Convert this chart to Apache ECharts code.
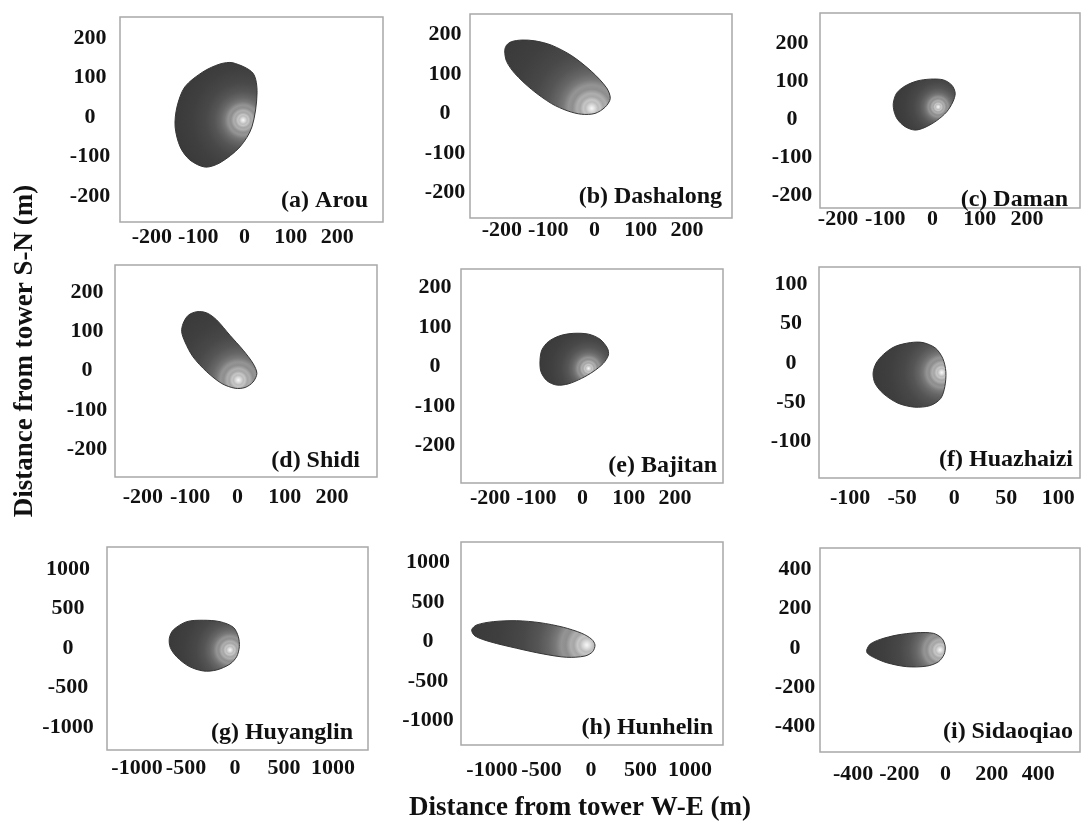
<!DOCTYPE html>
<html>
<head>
<meta charset="utf-8">
<script src="https://cdn.jsdelivr.net/npm/echarts@6/dist/echarts.min.js"></script>
<style>html,body{margin:0;padding:0;background:#fff}#chart{width:1082px;height:826px}</style>
</head>
<body>
<div id="chart"></div>
<script>
// ---- tick labels ----
const ticks200 = [-200, -100, 0, 100, 200];
const ticks100 = [-100, -50, 0, 50, 100];
const ticks1000 = [-1000, -500, 0, 500, 1000];
const ticks400 = [-400, -200, 0, 200, 400];

// ---- site names ----
const siteLabels = ['(a) Arou', '(b) Dashalong', '(c) Daman', '(d) Shidi', '(e) Bajitan',
  '(f) Huazhaizi', '(g) Huyanglin', '(h) Hunhelin', '(i) Sidaoqiao'];

// ---- footprint outer contours (m) and peak locations (m) ----
const arouOutline = [[-25,137],[18,111],[27,61],[16,-25],[-10,-76],[-53,-116],[-85,-127],[-118,-109],[-139,-76],[-150,-25],[-146,25],[-129,76],[-90,114],[-53,134]];
const arouPeak = [-3, -8];
const dashalongOutline = [[-190,173],[-179,182],[-157,186],[-129,184],[-93,173],[-49,146],[-6,106],[26,65],[34,38],[23,16],[1,0],[-28,-2],[-57,6],[-93,25],[-136,61],[-172,101],[-190,132],[-194,159]];
const dashalongPeak = [-6, 13];
const damanOutline = [[-83,41],[-76,68],[-58,87],[-33,100],[-5,105],[23,103],[41,89],[48,68],[43,45],[30,19],[9,-4],[-16,-22],[-37,-29],[-58,-20],[-74,-1],[-81,19]];
const damanPeak = [12, 32];
const shidiOutline = [[-115,120],[-104,141],[-86,150],[-65,147],[-44,129],[-16,90],[12,52],[33,18],[41,-7],[33,-29],[16,-43],[-5,-45],[-33,-33],[-65,-3],[-94,35],[-111,73],[-118,99]];
const shidiPeak = [2, -24];
const bajitanOutline = [[-92,16],[-88,42],[-74,63],[-49,78],[-20,84],[13,82],[38,69],[54,46],[56,29],[45,8],[23,-13],[-2,-30],[-31,-44],[-56,-47],[-77,-36],[-90,-13]];
const bajitanPeak = [13, -5];
const huazhaiziOutline = [[-78,-13],[-75,0],[-68,11],[-57,21],[-42,26],[-30,26],[-18,19],[-11,6],[-8,-11],[-9,-30],[-13,-45],[-23,-54],[-38,-56],[-54,-51],[-68,-39],[-76,-26]];
const huazhaiziPeak = [-12, -12];
const huyanglinOutline = [[-630,228],[-493,333],[-323,351],[-153,333],[-17,262],[34,143],[44,16],[17,-110],[-51,-203],[-187,-278],[-323,-291],[-470,-232],[-595,-112],[-660,5],[-670,123]];
const huyanglinPeak = [-51, -25];
const hunhelinOutline = [[-1205,146],[-1155,209],[-987,251],[-751,263],[-515,238],[-280,180],[-94,104],[7,28],[40,-44],[17,-129],[-61,-184],[-245,-200],[-482,-158],[-751,-86],[-1020,-3],[-1172,70]];
const hunhelinPeak = [-43, -44];
const sidaoqiaoOutline = [[-341,-10],[-326,20],[-283,44],[-211,66],[-125,78],[-53,75],[-16,49],[-2,10],[-6,-31],[-31,-70],[-81,-92],[-168,-95],[-254,-75],[-312,-47],[-338,-27]];
const sidaoqiaoPeak = [-24, -10];

const outlines = [arouOutline, dashalongOutline, damanOutline, shidiOutline, bajitanOutline,
  huazhaiziOutline, huyanglinOutline, hunhelinOutline, sidaoqiaoOutline];
const peaks = [arouPeak, dashalongPeak, damanPeak, shidiPeak, bajitanPeak,
  huazhaiziPeak, huyanglinPeak, hunhelinPeak, sidaoqiaoPeak];
const xTickSets = [ticks200, ticks200, ticks200, ticks200, ticks200, ticks100, ticks1000, ticks1000, ticks400];
const yTickSets = [ticks200, ticks200, ticks200, ticks200, ticks200, ticks100, ticks1000, ticks1000, ticks400];

// ---- layout (pixels) ----
const layout = [
  {l:120,t:17,w:263,h:205, xr:[-269,299], yr:[-266,253], ym:30, xm:15, lr:368, lc:201},
  {l:470,t:14,w:262,h:204, xr:[-269,297], yr:[-265,252], ym:25, xm:12, lr:722, lc:197},
  {l:820,t:13,w:260,h:195, xr:[-238,312], yr:[-234,279], ym:28, xm:11, lr:1068, lc:200},
  {l:115,t:265,w:262,h:212, xr:[-259,295], yr:[-271,269], ym:28, xm:20, lr:360, lc:461},
  {l:461,t:269,w:262,h:214, xr:[-263,304], yr:[-295,247], ym:26, xm:15, lr:717, lc:466},
  {l:819,t:267,w:261,h:211, xr:[-130,121], yr:[-146,122], ym:28, xm:20, lr:1073, lc:460},
  {l:107,t:547,w:261,h:203, xr:[-1306,1357], yr:[-1291,1278], ym:39, xm:18, lr:353, lc:733},
  {l:461,t:542,w:262,h:203, xr:[-1313,1333], yr:[-1310,1259], ym:33, xm:25, lr:713, lc:728},
  {l:820,t:548,w:260,h:204, xr:[-543,581], yr:[-530,510], ym:25, xm:22, lr:1073, lc:732}
];

const FONT = 'Liberation Serif';
const labelStyle = {fontFamily: FONT, fontWeight: 'bold', fontSize: 22, color: '#111',
  formatter: function (v) { return String(v); }};

const shadeStops = [
  {offset: 0, color: '#f8f8f8'},
  {offset: 0.03, color: '#dcdcdc'},
  {offset: 0.06, color: '#bcbcbc'},
  {offset: 0.08, color: '#c6c6c6'},
  {offset: 0.11, color: '#a6a6a6'},
  {offset: 0.14, color: '#aeaeae'},
  {offset: 0.18, color: '#8e8e8e'},
  {offset: 0.22, color: '#949494'},
  {offset: 0.27, color: '#787878'},
  {offset: 0.33, color: '#666666'},
  {offset: 0.42, color: '#555555'},
  {offset: 0.55, color: '#484848'},
  {offset: 0.75, color: '#3f3f3f'},
  {offset: 1, color: '#3a3a3a'}
];

const grids = [], xAxes = [], yAxes = [], series = [], titles = [];
layout.forEach((L, i) => {
  grids.push({left: L.l, top: L.t, width: L.w, height: L.h, show: true,
    borderColor: '#a8a8a8', borderWidth: 1.5, backgroundColor: '#fff', outerBoundsMode: 'none'});
  xAxes.push({type: 'value', gridIndex: i, min: L.xr[0], max: L.xr[1],
    axisLine: {show: false}, axisTick: {show: false, customValues: xTickSets[i]}, splitLine: {show: false},
    axisLabel: Object.assign({customValues: xTickSets[i], margin: L.xm, verticalAlign: 'middle'}, labelStyle)});
  yAxes.push({type: 'value', gridIndex: i, min: L.yr[0], max: L.yr[1],
    axisLine: {show: false}, axisTick: {show: false, customValues: yTickSets[i]}, splitLine: {show: false},
    axisLabel: Object.assign({customValues: yTickSets[i], margin: L.ym, align: 'center'}, labelStyle)});
  const outline = outlines[i], peak = peaks[i];
  series.push({
    type: 'custom', xAxisIndex: i, yAxisIndex: i, data: [peak], silent: true,
    renderItem: function (params, api) {
      const pts = outline.map(p => api.coord(p));
      const c = api.coord(peak);
      let R = 0;
      pts.forEach(p => { R = Math.max(R, Math.hypot(p[0] - c[0], p[1] - c[1])); });
      return {
        type: 'polygon',
        shape: {points: pts, smooth: 0.3},
        style: {
          fill: {type: 'radial', x: c[0], y: c[1], r: R, global: true, colorStops: shadeStops},
          stroke: '#363636', lineWidth: 1
        }
      };
    }
  });
  titles.push({text: siteLabels[i], right: 1082 - L.lr, top: L.lc - 12, padding: 0,
    textStyle: {fontFamily: FONT, fontWeight: 'bold', fontSize: 24, color: '#111'}});
});

const chart = echarts.init(document.getElementById('chart'), null, {renderer: 'canvas'});
chart.setOption({
  backgroundColor: '#fff',
  animation: false,
  title: titles,
  grid: grids,
  xAxis: xAxes,
  yAxis: yAxes,
  series: series,
  graphic: [
    {type: 'text', x: 580, y: 808, style: {text: 'Distance from tower W-E (m)', fontFamily: FONT,
      fontWeight: 'bold', fontSize: 27, fill: '#111', align: 'center', verticalAlign: 'middle'}},
    {type: 'text', x: 25, y: 351, rotation: Math.PI / 2, style: {text: 'Distance from tower S-N (m)', fontFamily: FONT,
      fontWeight: 'bold', fontSize: 27, fill: '#111', align: 'center', verticalAlign: 'middle'}}
  ]
});
</script>
</body>
</html>
